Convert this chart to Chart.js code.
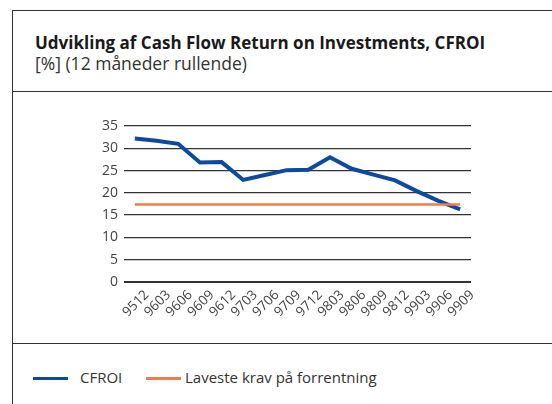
<!DOCTYPE html>
<html><head><meta charset="utf-8">
<script src="https://cdn.jsdelivr.net/npm/chart.js@4/dist/chart.umd.min.js"></script>
<style>
html,body{margin:0;padding:0;background:#fff;width:552px;height:404px;overflow:hidden;font-family:"Open Sans",sans-serif;color:#222;}
#frame{position:absolute;left:12px;top:10px;width:600px;height:500px;border-left:1.5px solid #333;border-top:1.5px solid #333;}
.div1{position:absolute;left:12px;top:91px;width:560px;height:0;border-top:1.5px solid #333;}
.div2{position:absolute;left:12px;top:343px;width:560px;height:0;border-top:1.5px solid #333;}
#title{position:absolute;left:35px;top:31px;font-weight:bold;font-size:17px;color:#1a1a1a;white-space:nowrap;}
#sub{position:absolute;left:35px;top:51px;font-size:17.5px;color:#333;white-space:nowrap;}
#wrap{position:absolute;left:0;top:100px;width:552px;height:240px;}
.leg{position:absolute;top:367px;font-size:15px;color:#333;white-space:nowrap;}
.sw{position:absolute;height:3px;top:377px;}
</style></head><body>
<div id="frame"></div><div class="div1"></div><div class="div2"></div>
<div id="title">Udvikling af Cash Flow Return on Investments, CFROI</div>
<div id="sub">[%] (12 måneder rullende)</div>
<div id="wrap"><canvas id="c" width="552" height="240"></canvas></div>
<div class="sw" style="left:33px;width:35px;background:#0b4a9e"></div>
<div class="leg" style="left:80px">CFROI</div>
<div class="sw" style="left:146px;width:35px;background:#f47a4c"></div>
<div class="leg" style="left:185px">Laveste krav på forrentning</div>
<script>
const categories = ["9512","9603","9606","9609","9612","9703","9706","9709","9712","9803","9806","9809","9812","9903","9906","9909"];
const cfroi = [32.2,31.7,31.0,26.8,26.9,22.9,24.0,25.1,25.2,28.0,25.4,24.1,22.8,20.4,18.2,16.3];
const kravValue = 17.4;
const krav = categories.map(() => kravValue);
const yTicks = [0,5,10,15,20,25,30,35];

new Chart(document.getElementById('c'), {
  type: 'line',
  data: {
    labels: categories,
    datasets: [
      {label:'Laveste krav på forrentning', data: krav, borderColor:'#f47a4c', borderWidth:2.5, pointRadius:0, tension:0, fill:false},
      {label:'CFROI', data: cfroi, borderColor:'#0b4a9e', borderWidth:4, pointRadius:0, tension:0, fill:false}
    ]
  },
  options: {
    responsive:false, animation:false,
    layout:{padding:{top:26,right:81,left:0,bottom:0}},
    plugins:{legend:{display:false}, tooltip:{enabled:false}},
    scales:{
      x:{
        offset:true,
        grid:{display:false, drawTicks:false},
        border:{display:false},
        ticks:{minRotation:45,maxRotation:45,autoSkip:false,color:'#444',font:{family:'Open Sans',size:13.5},padding:5,labelOffset:12},
        afterFit:(s)=>{s.height=58;}
      },
      y:{
        min:0,max:35,
        afterBuildTicks:(s)=>{s.ticks=yTicks.map(v=>({value:v}));},
        grid:{color:'#333',lineWidth:(ctx)=>ctx.tick && ctx.tick.value===0?2:1.3,drawTicks:false},
        border:{display:false},
        ticks:{color:'#444',font:{family:'Open Sans',size:14},padding:6},
        afterFit:(s)=>{s.width=124;}
      }
    }
  }
});
</script>
</body></html>
